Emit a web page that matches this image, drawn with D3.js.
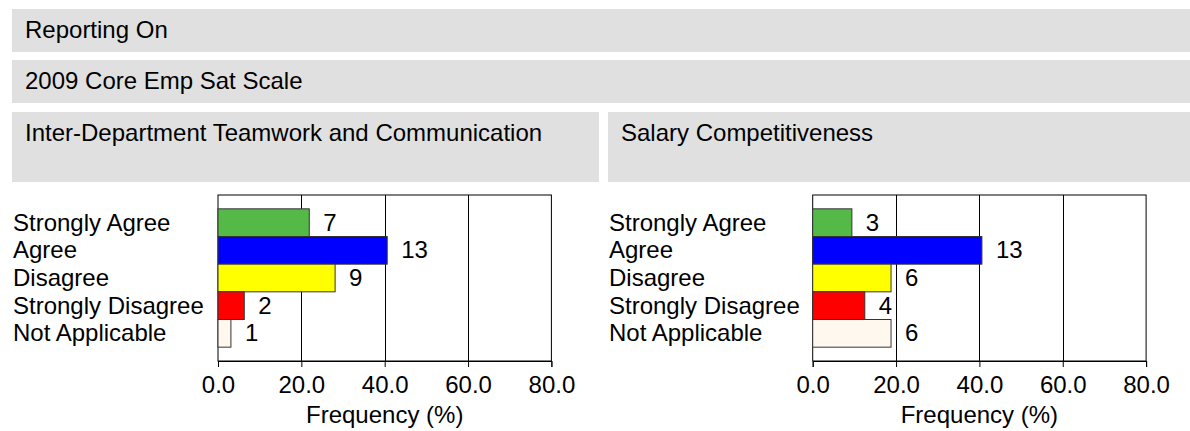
<!DOCTYPE html>
<html>
<head>
<meta charset="utf-8">
<script src="https://cdn.jsdelivr.net/npm/d3@7"></script>
<style>
  html, body { margin: 0; padding: 0; background: #fff; }
  svg { display: block; font-family: "Liberation Sans", Arial, Helvetica, sans-serif; }
</style>
</head>
<body>
<svg id="chart" width="1190" height="431"></svg>
<script>
// ---- data ----
const headerTitles = ["Reporting On", "2009 Core Emp Sat Scale"];
const panelTitles = ["Inter-Department Teamwork and Communication", "Salary Competitiveness"];
const categories = ["Strongly Agree", "Agree", "Disagree", "Strongly Disagree", "Not Applicable"];
const countsTeamwork = [7, 13, 9, 2, 1];
const percentTeamwork = [21.9, 40.6, 28.1, 6.3, 3.1];
const countsSalary = [3, 13, 6, 4, 6];
const percentSalary = [9.4, 40.6, 18.8, 12.5, 18.8];
const xTicks = [0, 20, 40, 60, 80];
const xLabel = "Frequency (%)";
const barColors = ["#55b947", "#0000ff", "#ffff00", "#ff0000", "#fff8ee"];

// ---- drawing ----
const svg = d3.select("#chart");
const FS = 24;
const boxFill = "#e0e0e0";

// header boxes
const headerBoxes = [{y: 9, h: 43}, {y: 60, h: 43}];
headerTitles.forEach((t, i) => {
  svg.append("rect").attr("x", 12).attr("y", headerBoxes[i].y)
    .attr("width", 1190 - 12).attr("height", headerBoxes[i].h).attr("fill", boxFill);
  svg.append("text").attr("x", 25).attr("y", headerBoxes[i].y + 29)
    .attr("font-size", FS).attr("fill", "#000").text(t);
});

const panels = [
  {boxX: 12, boxW: 587, labelX: 13, x0: 218, counts: countsTeamwork, pct: percentTeamwork},
  {boxX: 608, boxW: 1190 - 608, labelX: 609, x0: 812.7, counts: countsSalary, pct: percentSalary}
];

panels.forEach((p, pi) => {
  // panel title box
  svg.append("rect").attr("x", p.boxX).attr("y", 112).attr("width", p.boxW).attr("height", 70).attr("fill", boxFill);
  svg.append("text").attr("x", p.boxX + 13).attr("y", 141).attr("font-size", FS).attr("fill", "#000").text(panelTitles[pi]);

  const top = 195, bottom = 361;
  const x = d3.scaleLinear().domain([0, 80]).range([p.x0, p.x0 + 333.4]);
  const y = d3.scaleBand().domain(categories).range([top, bottom]).paddingInner(0).paddingOuter(0.5);

  const g = svg.append("g");

  // frame
  g.append("rect").attr("x", x(0)).attr("y", top).attr("width", x(80) - x(0)).attr("height", bottom - top)
    .attr("fill", "none").attr("stroke", "#000").attr("stroke-width", 1);

  // gridlines
  g.selectAll("line.grid").data(xTicks.slice(1, -1)).join("line").attr("class", "grid")
    .attr("x1", d => Math.round(x(d)) + 0.5).attr("x2", d => Math.round(x(d)) + 0.5)
    .attr("y1", top).attr("y2", bottom).attr("stroke", "#000").attr("stroke-width", 1);

  // bars
  g.selectAll("rect.bar").data(categories).join("rect").attr("class", "bar")
    .attr("x", x(0)).attr("y", d => y(d))
    .attr("width", (d, i) => x(p.pct[i]) - x(0)).attr("height", y.bandwidth())
    .attr("fill", (d, i) => barColors[i]).attr("stroke", "#333").attr("stroke-width", 1);

  // value labels
  g.selectAll("text.val").data(categories).join("text").attr("class", "val")
    .attr("x", (d, i) => x(p.pct[i]) + 14).attr("y", d => y(d) + y.bandwidth() / 2 + 8)
    .attr("font-size", FS).attr("fill", "#000").text((d, i) => p.counts[i]);

  // category labels
  g.selectAll("text.cat").data(categories).join("text").attr("class", "cat")
    .attr("x", p.labelX).attr("y", d => y(d) + y.bandwidth() / 2 + 8)
    .attr("font-size", FS).attr("fill", "#000").text(d => d);

  // x axis
  const axis = d3.axisBottom(x).tickValues(xTicks).tickFormat(d3.format(".1f")).tickSize(6).tickPadding(9);
  const ax = g.append("g").attr("transform", `translate(0,${bottom})`).call(axis);
  ax.select(".domain").attr("stroke", "#000");
  ax.selectAll(".tick line").attr("stroke", "#000");
  ax.selectAll(".tick text").attr("font-size", FS).attr("fill", "#000").attr("font-family", "Liberation Sans, Arial, sans-serif");

  g.append("text").attr("x", (x(0) + x(80)) / 2).attr("y", 423).attr("text-anchor", "middle")
    .attr("font-size", FS).attr("fill", "#000").text(xLabel);
});
</script>
</body>
</html>
